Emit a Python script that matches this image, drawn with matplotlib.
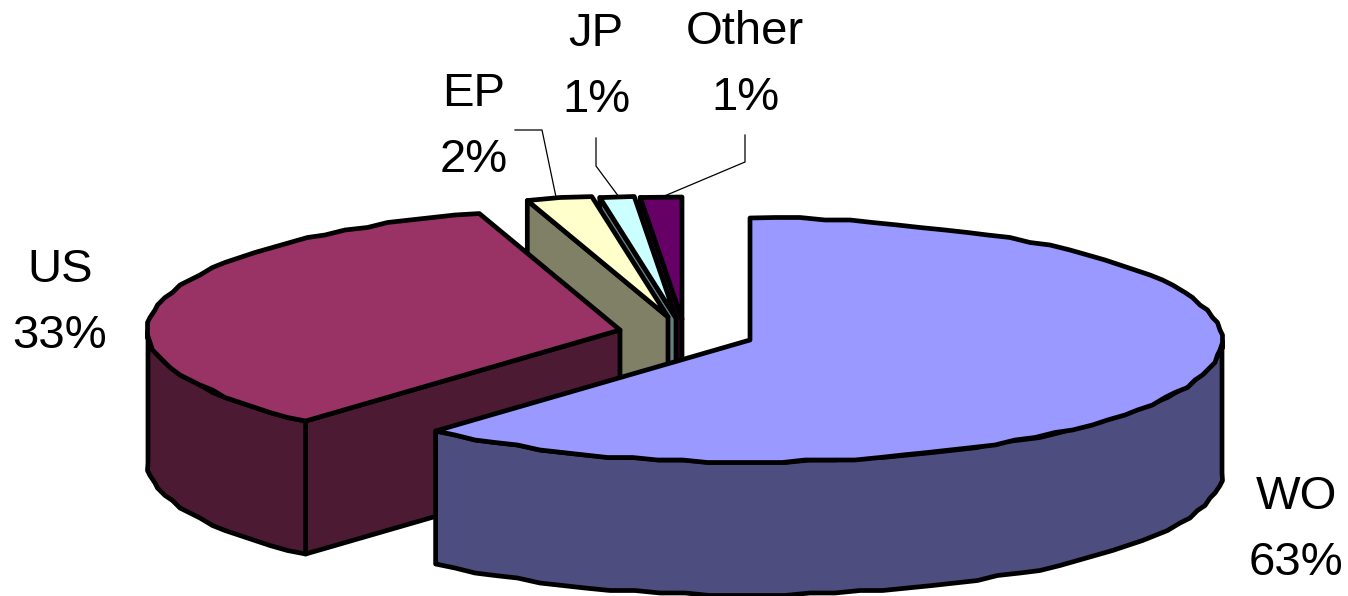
import numpy as np
import matplotlib
matplotlib.use("Agg")
import matplotlib.pyplot as plt
from matplotlib.patches import Polygon

# Shares in percent, clockwise from 12 o'clock
names = ["WO", "US", "EP", "JP", "Other"]
shares = [63, 33, 2, 1, 1]

top_colors = ["#9999FF", "#993366", "#FFFFCC", "#CCFFFF", "#660066"]
side_colors = ["#4D4D80", "#4D1A33", "#808066", "#668080", "#330033"]

# Ellipse shape and thickness of the disc
rx = 472
ry = 122
depth = 133
skew = 5.9  # degrees, view angle correction of the slice edges
grid = 2.5  # rim points snap to this, gives the stepped outline

# Apex of each exploded slice
apex = [(750, 340), (620, 330), (668, 317), (676, 318), (682, 319)]

# Label anchors and leader lines
label_pos = [(1296, 530), (60, 303), (474, 127), (596, 67), (745, 65)]
leaders = {
    "EP": ([515, 542, 556], [130, 130, 197]),
    "JP": ([596, 596, 619], [138, 166, 197]),
    "Other": ([745, 745, 662], [135, 162, 197]),
}


def warp(theta):
    return theta - skew * np.sqrt(abs(np.sin(np.radians(theta))))


def rim(center, a0, a1, step=3.0):
    # Points along the outer edge between two clockwise angles
    n = max(int(abs(a1 - a0) / step), 1) + 1
    t = np.radians(np.linspace(a0, a1, n))
    x = center[0] + rx * np.sin(t)
    y = center[1] - ry * np.cos(t)
    pts = np.column_stack([x, y])
    pts[1:-1] = np.round(pts[1:-1] / grid) * grid
    return pts


def face(ax, pts, color):
    ax.add_patch(Polygon(pts, closed=True, facecolor=color, edgecolor="black",
                         linewidth=3.4, joinstyle="round"))


fig = plt.figure(figsize=(13.48, 5.96), dpi=100)
ax = fig.add_axes([0, 0, 1, 1])
ax.set_xlim(0, 1348)
ax.set_ylim(596, 0)
ax.axis("off")

edges = 3.6 * np.cumsum([0] + shares)

# Back slices first so the front ones cover them
for i in [4, 3, 2, 1, 0]:
    c = np.array(apex[i], dtype=float)
    a0 = warp(edges[i])
    a1 = warp(edges[i + 1])
    down = np.array([0, depth])

    # Cut face along the starting edge
    if 180 < a0 < 360:
        start = rim(c, a0, a0 + 0.01)[0]
        face(ax, [start, c, c + down, start + down], side_colors[i])

    # Outer wall on the near half of the disc
    w0 = max(a0, 90)
    w1 = min(a1, 270)
    if w1 > w0:
        arc = rim(c, w0, w1)
        face(ax, np.vstack([arc, (arc + down)[::-1]]), side_colors[i])

    top = np.vstack([[c], rim(c, a0, a1)])
    face(ax, top, top_colors[i])

for name, share, pos in zip(names, shares, label_pos):
    ax.text(pos[0], pos[1], f"{name}\n{share}%", ha="center", va="center",
            fontsize=34, family="Liberation Sans", color="black", linespacing=1.65)

for xs, ys in leaders.values():
    ax.plot(xs, ys, color="black", linewidth=0.9)

fig.savefig("out.png", dpi=100)
